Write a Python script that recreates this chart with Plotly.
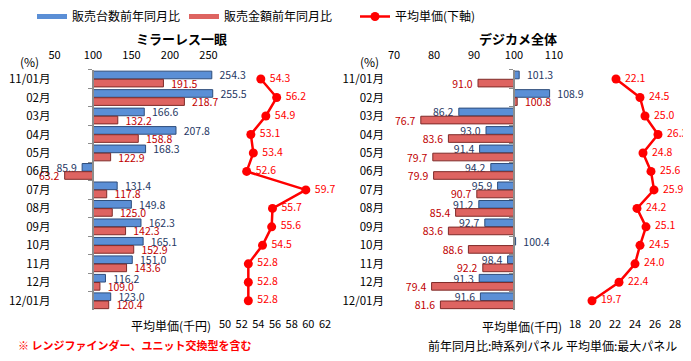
import plotly.graph_objects as go

W, H = 691, 361
OFF = 8  # page body margin offset

months = ["11/01月", "02月", "03月", "04月", "05月", "06月", "07月", "08月",
          "09月", "10月", "11月", "12月", "12/01月"]

ml_units = [254.3, 255.5, 166.6, 207.8, 168.3, 85.9, 131.4, 149.8, 162.3, 165.1, 151.0, 116.2, 123.0]
ml_value = [191.5, 218.7, 132.2, 158.8, 122.9, 63.2, 117.8, 125.0, 142.3, 152.9, 143.6, 109.0, 120.4]
ml_price = [54.3, 56.2, 54.9, 53.1, 53.4, 52.6, 59.7, 55.7, 55.6, 54.5, 52.8, 52.8, 52.8]

all_units = [101.3, 108.9, 86.2, 93.0, 91.4, 94.2, 95.9, 91.2, 92.7, 100.4, 98.4, 91.3, 91.6]
all_value = [91.0, 100.8, 76.7, 83.6, 79.7, 79.9, 90.7, 85.4, 83.6, 88.6, 92.2, 79.4, 81.6]
all_price = [22.1, 24.5, 25.0, 26.3, 24.8, 25.6, 25.9, 24.2, 25.1, 24.5, 24.0, 22.4, 19.7]

bar_ticks_left = [50, 100, 150, 200, 250]
bar_ticks_right = [70, 80, 90, 100, 110]
price_ticks_left = [50, 52, 54, 56, 58, 60, 62]
price_ticks_right = [18, 20, 22, 24, 26, 28]

BASE = 100
FONT = "Noto Sans CJK JP"
BLUE = "#5B8FD6"
BLUE_EDGE = "#2E4D7B"
RED = "#DE6461"
RED_EDGE = "#7F2B29"
NAVY = "#1F3864"
DRED = "#C00000"
LRED = "#FF0000"
NUM = 10.5


def px(x):
    return (x - OFF) / W


def py(y):
    return 1 - (y - OFF) / H


def lbl(v):
    s = f"{v:.1f}"
    return ("\u00a0\u00a0" + s) if v >= BASE else (s + "\u00a0")


fig = go.Figure()


def add_panel(units, value, price, xb, xl, yax, ybase):
    fig.add_trace(go.Bar(
        y=months, x=[u - BASE for u in units], base=BASE, orientation="h",
        xaxis=xb, yaxis=yax, marker=dict(color=BLUE, line=dict(color=BLUE_EDGE, width=1)),
        text=[lbl(u) for u in units], textposition="outside", constraintext="none",
        cliponaxis=False, textfont=dict(color=NAVY, size=NUM, family=FONT),
        showlegend=False, hoverinfo="skip"))
    fig.add_trace(go.Bar(
        y=months, x=[v - BASE for v in value], base=BASE, orientation="h",
        xaxis=xb, yaxis=yax, marker=dict(color=RED, line=dict(color=RED_EDGE, width=1)),
        text=[lbl(v) for v in value], textposition="outside", constraintext="none",
        cliponaxis=False, textfont=dict(color=DRED, size=NUM, family=FONT),
        showlegend=False, hoverinfo="skip"))
    fig.add_trace(go.Scatter(
        y=months, x=price, xaxis=xl, yaxis=yax, mode="lines+markers+text",
        line=dict(color=LRED, width=2.5), marker=dict(color=LRED, size=9),
        text=["\u00a0" + f"{p:.1f}" for p in price], textposition="middle right",
        textfont=dict(color=LRED, size=NUM, family=FONT), cliponaxis=False,
        showlegend=False, hoverinfo="skip"))
    # invisible trace carrying the baseline (100%) axis
    fig.add_trace(go.Scatter(
        y=months, x=[BASE] * len(months), xaxis=xb, yaxis=ybase, mode="markers",
        marker=dict(opacity=0), showlegend=False, hoverinfo="skip"))


add_panel(ml_units, ml_value, ml_price, "x", "x2", "y", "y3")
add_panel(all_units, all_value, all_price, "x3", "x4", "y2", "y4")

# legend entries
fig.add_trace(go.Scatter(x=[None], y=[None], mode="lines", name="販売台数前年同月比",
                         line=dict(color=BLUE, width=5), legend="legend"))
fig.add_trace(go.Scatter(x=[None], y=[None], mode="lines", name="販売金額前年同月比",
                         line=dict(color=RED, width=5), legend="legend2"))
fig.add_trace(go.Scatter(x=[None], y=[None], mode="lines+markers", name="平均単価(下軸)",
                         line=dict(color=LRED, width=2.5), marker=dict(color=LRED, size=9),
                         legend="legend3"))

n = len(months)
cat_range = [n - 0.5, -0.5]
ydom = [py(310.0), py(69.8)]
ycommon = dict(domain=ydom, type="category", categoryorder="array", categoryarray=months,
               range=cat_range, autorange=False, showgrid=False, zeroline=False,
               automargin=False, ticks="")

# left panel scale: 0.77 px per %, 100% at x=93
l_x0 = 54.5
l_x1 = 224
l_r1 = 50 + (l_x1 - l_x0) / 0.77
# right panel scale: 4 px per %, 100% at x=514
r_x0 = 394
r_x1 = 562
r_r1 = 70 + (r_x1 - r_x0) / 4.0

xbar = dict(side="top", anchor="free", position=py(61), showgrid=False, zeroline=False,
            showline=False, ticks="", automargin=False,
            tickfont=dict(size=11, family=FONT, color="#000"))
xline = dict(side="bottom", showgrid=False, zeroline=False, showline=False, ticks="",
             automargin=False, ticklabelstandoff=6,
             tickfont=dict(size=11, family=FONT, color="#000"))
ybase_ax = dict(type="category", categoryorder="array", categoryarray=months,
                range=cat_range, autorange=False, showgrid=False, zeroline=False,
                showline=True, linecolor="#8C8C8C", linewidth=2, ticks="outside",
                ticklen=4, tickwidth=1, tickcolor="#8C8C8C", tickson="boundaries",
                showticklabels=False, anchor="free", automargin=False)

fig.update_layout(
    width=W, height=H, margin=dict(l=0, r=0, t=0, b=0, autoexpand=False),
    paper_bgcolor="white", plot_bgcolor="rgba(0,0,0,0)",
    font=dict(family=FONT, size=12, color="#000"),
    barmode="group", bargap=0.12, bargroupgap=0.06,
    xaxis=dict(domain=[px(l_x0), px(l_x1)], range=[50, l_r1], tickvals=bar_ticks_left, **xbar),
    xaxis2=dict(domain=[px(225), px(330)], range=[50, 62.6], tickvals=price_ticks_left,
                anchor="y", **xline),
    xaxis3=dict(domain=[px(r_x0), px(r_x1)], range=[70, r_r1], tickvals=bar_ticks_right, **xbar),
    xaxis4=dict(domain=[px(575), px(690)], range=[18, 29.5], tickvals=price_ticks_right,
                anchor="y2", **xline),
    yaxis=dict(anchor="x", ticklabelstandoff=3,
               tickfont=dict(size=11.5, family=FONT, color="#000"), **ycommon),
    yaxis2=dict(anchor="x3", ticklabelstandoff=9,
                tickfont=dict(size=11.5, family=FONT, color="#000"), **ycommon),
    yaxis3=dict(overlaying="y", position=px(93), **ybase_ax),
    yaxis4=dict(overlaying="y2", position=px(514), **ybase_ax),
    legend=dict(orientation="h", x=px(32), y=py(2), xanchor="left", yanchor="top",
                font=dict(size=12, family=FONT), bgcolor="rgba(0,0,0,0)", itemwidth=30),
    legend2=dict(orientation="h", x=px(184), y=py(2), xanchor="left", yanchor="top",
                 font=dict(size=12, family=FONT), bgcolor="rgba(0,0,0,0)", itemwidth=30),
    legend3=dict(orientation="h", x=px(355), y=py(2), xanchor="left", yanchor="top",
                 font=dict(size=12, family=FONT), bgcolor="rgba(0,0,0,0)", itemwidth=30),
)

ann = [
    dict(text="<b>ミラーレス一眼</b>", x=px(181), y=py(39), size=13, color="#000"),
    dict(text="<b>デジカメ全体</b>", x=px(518), y=py(39), size=13, color="#000"),
    dict(text="(%)", x=px(30), y=py(61), size=12, color="#000"),
    dict(text="(%)", x=px(370), y=py(61), size=12, color="#000"),
]
for a in ann:
    fig.add_annotation(text=a["text"], x=a["x"], y=a["y"], xref="paper", yref="paper",
                       showarrow=False, xanchor="center", yanchor="middle",
                       font=dict(size=a["size"], color=a["color"], family=FONT))

for xr, yy, t, col, bold, anchor in [
    (213, 325, "平均単価(千円)", "#000", False, "right"),
    (564, 326, "平均単価(千円)", "#000", False, "right"),
    (16, 345, "※ レンジファインダー、ユニット交換型を含む", "#FF0000", True, "left"),
    (679, 345, "前年同月比:時系列パネル 平均単価:最大パネル", "#000", False, "right"),
]:
    fig.add_annotation(text=(f"<b>{t}</b>" if bold else t), x=px(xr), y=py(yy),
                       xref="paper", yref="paper", showarrow=False, xanchor=anchor,
                       yanchor="middle", font=dict(size=11 if bold else 12, color=col, family=FONT))

fig.write_html("out.html")
